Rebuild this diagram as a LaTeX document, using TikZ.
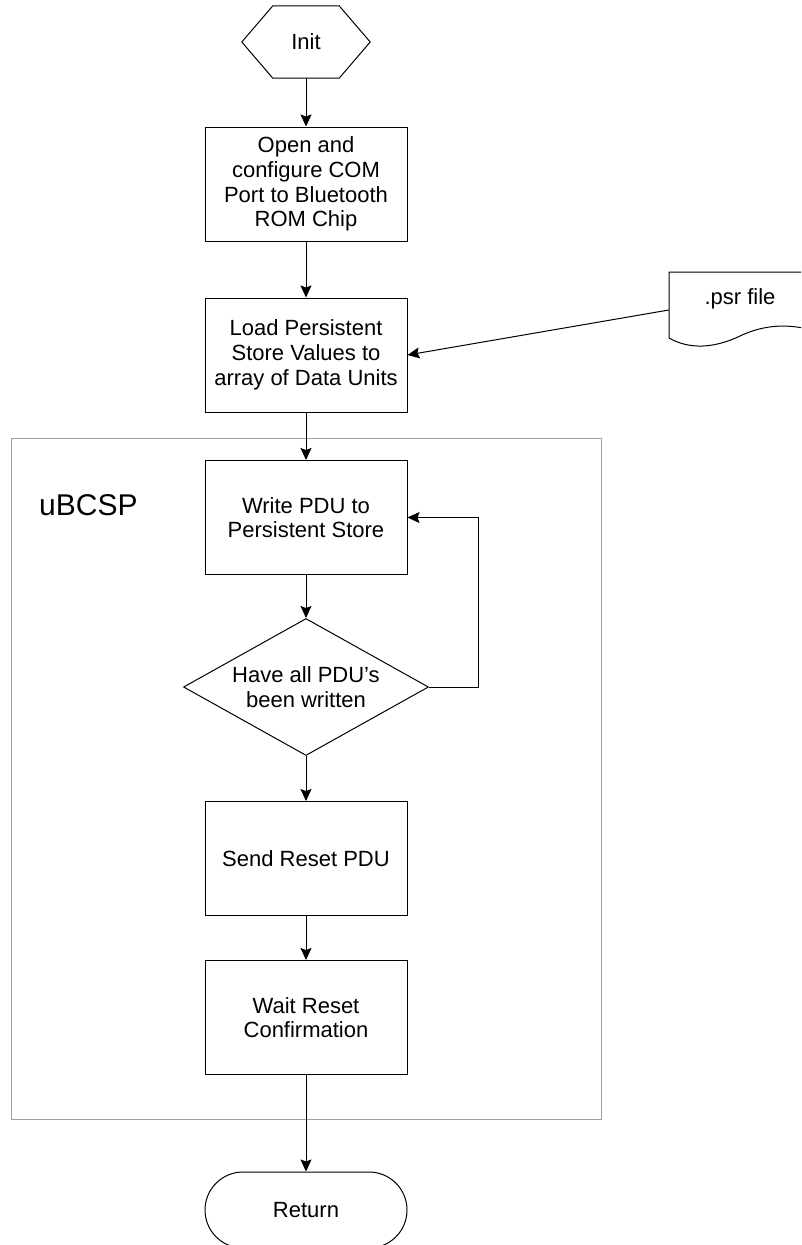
\documentclass[tikz,border=0pt]{standalone}
\usepackage{fontspec}
\setmainfont{Liberation Sans}
\usetikzlibrary{arrows.meta,shapes.geometric,calc}
\tikzset{
  txt/.style={font=\fontsize{22}{24.7}\selectfont, align=center, inner sep=0pt},
  procbox/.style={txt, draw=black, line width=1pt, minimum width=202pt, minimum height=114pt},
  arr/.style={draw=black, line width=1pt, -{Stealth[length=12pt,width=11pt,inset=2pt]}},
  plainline/.style={draw=black, line width=1pt},
  groupbox/.style={draw=gray!75, line width=1pt}
}
\begin{document}
\begin{tikzpicture}[x=1pt,y=-1pt]
\useasboundingbox (0,0) rectangle (801,1245);
\clip (0,0) rectangle (801,1245);
\fill[white] (0,0) rectangle (801,1245);

% container
\node[groupbox, minimum width=590pt, minimum height=681pt, inner sep=0pt] (ubcsp) at (306,778.5) {};
\node[font=\fontsize{30}{34}\selectfont, anchor=base west, inner sep=0pt] (ubcsplabel) at (39,515) {uBCSP};

% Init hexagon
\node[txt, minimum width=128pt, minimum height=72pt] (init) at (306,42) {Init};
\draw[plainline] (init.west) -- ([xshift=31pt]init.north west) -- ([xshift=-31pt]init.north east)
  -- (init.east) -- ([xshift=-31pt]init.south east) -- ([xshift=31pt]init.south west) -- cycle;

% process boxes
\node[procbox] (b1) at (306,184) {Open and\\configure COM\\Port to Bluetooth\\ROM Chip};
\node[procbox] (b2) at (306,355) {Load Persistent\\Store Values to\\array of Data Units};
\node[procbox] (b3) at (306,517.5) {Write PDU to\\Persistent Store};
\node[txt, shape=diamond, draw=black, line width=1pt, aspect=1.79, minimum width=245pt, minimum height=137pt] (dec) at (306,687) {Have all PDU’s\\been written};
\node[procbox] (b4) at (306,858.5) {Send Reset PDU};
\node[procbox] (b5) at (306,1017.5) {Wait Reset\\Confirmation};

% Return terminal
\node[txt, draw=black, line width=1pt, minimum width=202pt, minimum height=76pt, rounded corners=38pt] (ret) at (306,1210) {Return};

% .psr file document
\node[txt, minimum width=142pt, minimum height=76pt] (psr) at (740,310) {};
\node[txt] (psrtext) at (740,299) {.psr file};
\draw[plainline] (669,338) -- (669,272) -- (811,272) -- (811,330)
  .. controls (790,324) and (765,324) .. (740,336)
  .. controls (715,348) and (690,350) .. (669,338);

% connectors
\draw[arr] (init.south) -- (b1.north);
\draw[arr] (b1.south) -- (b2.north);
\draw[arr] (psr.west) -- (b2.east);
\draw[arr] (b2.south) -- (b3.north);
\draw[arr] (b3.south) -- (dec.north);
\coordinate (loopc) at (478,517.5);
\draw[arr] (dec.east) -| (loopc) -- (b3.east);
\draw[arr] (dec.south) -- (b4.north);
\draw[arr] (b4.south) -- (b5.north);
\draw[arr] (b5.south) -- (ret.north);
\end{tikzpicture}
\end{document}
